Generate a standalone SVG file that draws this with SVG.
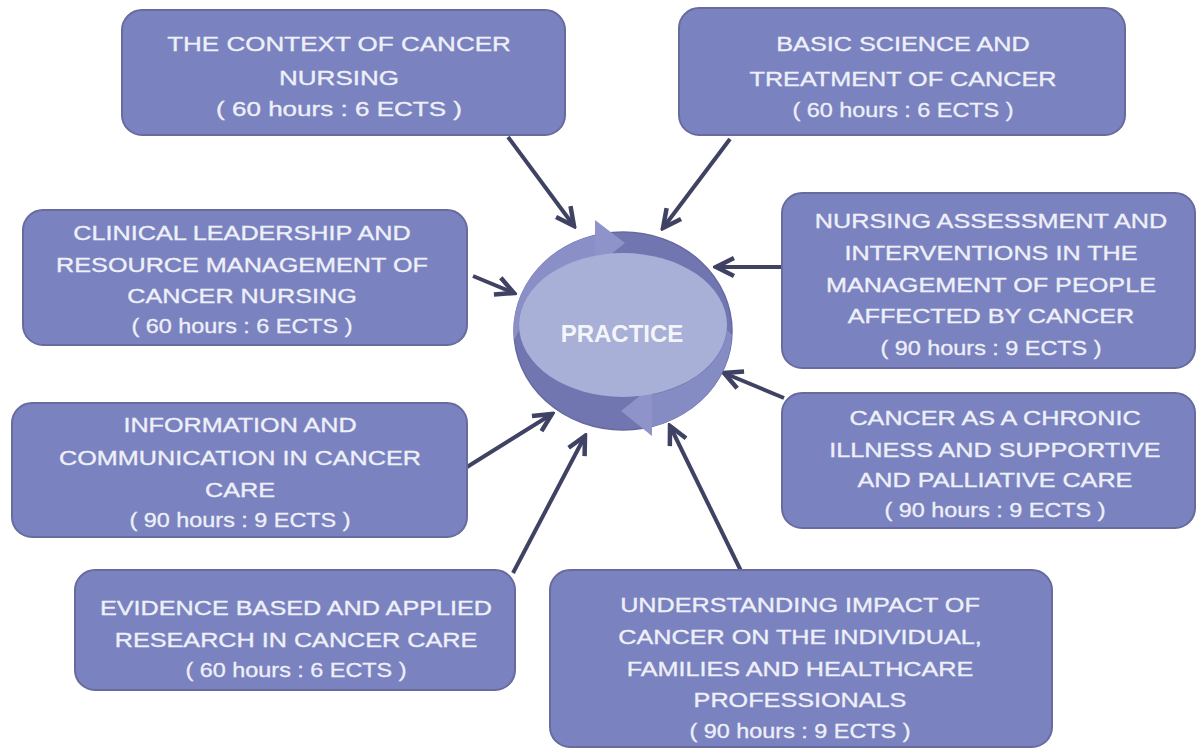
<svg xmlns="http://www.w3.org/2000/svg" width="1198" height="753" viewBox="0 0 1198 753">
<defs>
<style>
.box{fill:#7b82c0;stroke:#676b9e;stroke-width:2}
.t{font-family:"Liberation Sans",Arial,sans-serif;font-size:21px;fill:#eef0f8;stroke:#eef0f8;stroke-width:0.35px;text-anchor:middle}
.p{font-family:"Liberation Sans",Arial,sans-serif;font-size:19.5px;fill:#eef0f8;stroke:#eef0f8;stroke-width:0.3px;text-anchor:middle}
.c{stroke:#3f4263;stroke-width:4;fill:none;marker-end:url(#ah)}
</style>
<marker id="ah" viewBox="0 0 24 24" markerUnits="userSpaceOnUse" markerWidth="24" markerHeight="24" refX="21" refY="12" orient="auto">
<path d="M3,3 L21,12 L3,21" fill="none" stroke="#3f4263" stroke-width="4.5"/>
</marker>
</defs>
<rect width="1198" height="753" fill="#ffffff"/>

<g id="connectors">
<line class="c" x1="508" y1="137" x2="574" y2="226"/>
<line class="c" x1="730" y1="139" x2="663" y2="228"/>
<line class="c" x1="473" y1="276" x2="514" y2="293"/>
<line class="c" x1="782" y1="267" x2="716" y2="267"/>
<line class="c" x1="784" y1="398" x2="724" y2="373"/>
<line class="c" x1="467" y1="467" x2="552" y2="414"/>
<line class="c" x1="513" y1="573" x2="585" y2="436"/>
<line class="c" x1="741" y1="571" x2="670" y2="426"/>
</g>

<g id="practice">
<ellipse cx="623" cy="331" rx="109" ry="99" fill="#7176b0" stroke="#666aa0" stroke-width="1.5"/>
<path d="M514,340 A109,99 0 0 1 595,235 L595,256 A104,72 0 0 0 519,330 Z" fill="#8a90c7"/>
<polygon points="595,220 625,243 595,267" fill="#8e94ca"/>
<path d="M732,335 A109,99 0 0 1 651,427 L651,395 A104,72 0 0 0 727,330 Z" fill="#858bc3"/>
<polygon points="652,386 621,411 652,436" fill="#8e94ca"/>
<ellipse cx="623" cy="325" rx="104" ry="72" fill="#a9b0d8"/>
<text x="622" y="342" font-family="'Liberation Sans',Arial,sans-serif" font-size="24" font-weight="bold" fill="#f4f5fa" text-anchor="middle">PRACTICE</text>
</g>

<g id="context">
<rect class="box" x="122" y="10" width="443" height="125" rx="20"/>
<g transform="translate(339,0) scale(1.24,1)">
<text class="t" x="0" y="51">THE CONTEXT OF CANCER</text>
<text class="t" x="0" y="85">NURSING</text>
<text class="t" x="0" y="116">( 60 hours : 6 ECTS )</text>
</g>
</g>

<g id="basic">
<rect class="box" x="679" y="8" width="446" height="127" rx="20"/>
<g transform="translate(903,0) scale(1.2,1)">
<text class="t" x="0" y="51">BASIC SCIENCE AND</text>
<text class="t" x="0" y="86">TREATMENT OF CANCER</text>
<text class="p" x="0" y="117">( 60 hours : 6 ECTS )</text>
</g>
</g>

<g id="clinical">
<rect class="box" x="23" y="210" width="444" height="135" rx="20"/>
<g transform="translate(242,0) scale(1.2,1)">
<text class="t" x="0" y="240">CLINICAL LEADERSHIP AND</text>
<text class="t" x="0" y="272">RESOURCE MANAGEMENT OF</text>
<text class="t" x="0" y="303">CANCER NURSING</text>
<text class="p" x="0" y="333">( 60 hours : 6 ECTS )</text>
</g>
</g>

<g id="nursing">
<rect class="box" x="782" y="193" width="413" height="175" rx="20"/>
<g transform="translate(991,0) scale(1.2,1)">
<text class="t" x="0" y="228">NURSING ASSESSMENT AND</text>
<text class="t" x="0" y="260">INTERVENTIONS IN THE</text>
<text class="t" x="0" y="292">MANAGEMENT OF PEOPLE</text>
<text class="t" x="0" y="323">AFFECTED BY CANCER</text>
<text class="p" x="0" y="355">( 90 hours : 9 ECTS )</text>
</g>
</g>

<g id="information">
<rect class="box" x="12" y="403" width="455" height="134" rx="20"/>
<g transform="translate(240,0) scale(1.2,1)">
<text class="t" x="0" y="432">INFORMATION AND</text>
<text class="t" x="0" y="465">COMMUNICATION IN CANCER</text>
<text class="t" x="0" y="497">CARE</text>
<text class="p" x="0" y="527">( 90 hours : 9 ECTS )</text>
</g>
</g>

<g id="chronic">
<rect class="box" x="782" y="393" width="413" height="135" rx="20"/>
<g transform="translate(995,0) scale(1.2,1)">
<text class="t" x="0" y="425">CANCER AS A CHRONIC</text>
<text class="t" x="0" y="457">ILLNESS AND SUPPORTIVE</text>
<text class="t" x="0" y="487">AND PALLIATIVE CARE</text>
<text class="p" x="0" y="517">( 90 hours : 9 ECTS )</text>
</g>
</g>

<g id="evidence">
<rect class="box" x="75" y="570" width="440" height="120" rx="20"/>
<g transform="translate(296,0) scale(1.2,1)">
<text class="t" x="0" y="615">EVIDENCE BASED AND APPLIED</text>
<text class="t" x="0" y="647">RESEARCH IN CANCER CARE</text>
<text class="p" x="0" y="677">( 60 hours : 6 ECTS )</text>
</g>
</g>

<g id="understanding">
<rect class="box" x="550" y="570" width="502" height="177" rx="20"/>
<g transform="translate(800,0) scale(1.2,1)">
<text class="t" x="0" y="612">UNDERSTANDING IMPACT OF</text>
<text class="t" x="0" y="644">CANCER ON THE INDIVIDUAL,</text>
<text class="t" x="0" y="676">FAMILIES AND HEALTHCARE</text>
<text class="t" x="0" y="707">PROFESSIONALS</text>
<text class="p" x="0" y="738">( 90 hours : 9 ECTS )</text>
</g>
</g>
</svg>
